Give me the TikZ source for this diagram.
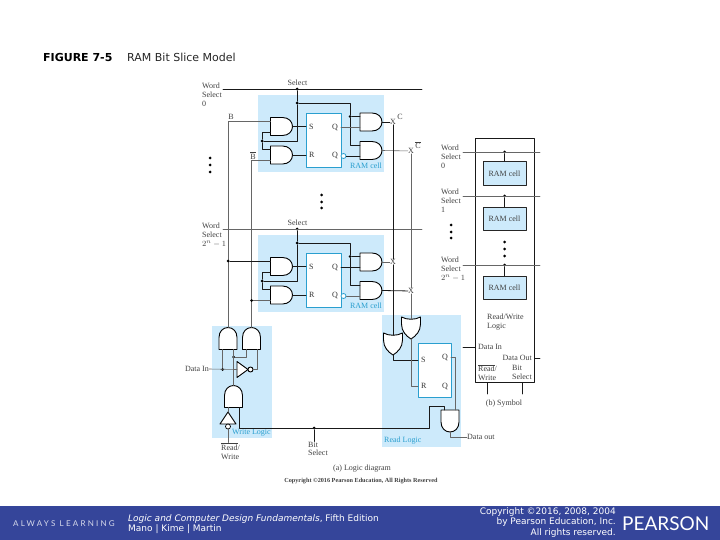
\documentclass[tikz,border=0pt]{standalone}
\usepackage{fontspec}
\setmainfont{Liberation Serif}
\newfontfamily\slidefont{DejaVu Sans}
\newfontfamily\brandfont{Lato}
\newfontfamily\spacedfont[LetterSpace=28]{Lato}
\definecolor{panelblue}{HTML}{CDEAFB}
\definecolor{edgeblue}{HTML}{2A9FCF}
\definecolor{barblue}{HTML}{35459A}
\tikzset{
  wire/.style={draw=black!60,line width=.6pt},
  wiredk/.style={draw=black!90,line width=.8pt},
  gateline/.style={draw=black,line width=.9pt,fill=white},
  lab/.style={font=\fontsize{8}{9}\selectfont,text=black!75,inner sep=0pt,align=left},
  bluelab/.style={font=\fontsize{8}{9}\selectfont,text=edgeblue,inner sep=0pt},
  pinlab/.style={font=\fontsize{8}{9}\selectfont,text=black!80,inner sep=3pt},
  panel/.style={fill=panelblue,draw=none,inner sep=0pt},
  srbox/.style={fill=white,draw=edgeblue,line width=.8pt,inner sep=0pt},
  jdot/.style={circle,fill=black,inner sep=0pt,minimum size=3pt},
  bubble/.style={circle,draw=edgeblue,fill=white,line width=.8pt,inner sep=0pt,minimum size=5pt},
  ramcell/.style={fill=panelblue,draw=black!85,line width=.9pt,inner sep=0pt,minimum width=43pt,minimum height=23.5pt,font=\fontsize{8}{9}\selectfont,text=black!75},
  footer/.style={font=\slidefont\fontsize{9}{10.5}\selectfont,text=white,inner sep=0pt},
  andgate/.pic={
    \draw[gateline] (-11,-9) -- (1,-9) .. controls (7,-9) and (11,-5) .. (11,0) .. controls (11,5) and (7,9) .. (1,9) -- (-11,9) -- cycle;
    \coordinate (-in1) at (-11,-5.5);
    \coordinate (-in2) at (-11,5.5);
    \coordinate (-out) at (11,0);
  },
  orgate/.pic={
    \draw[gateline] (-11,-9.5) -- (-4,-9.5) .. controls (3,-9.5) and (8,-5) .. (11,0) .. controls (8,5) and (3,9.5) .. (-4,9.5) -- (-11,9.5) .. controls (-8,4) and (-8,-4) .. cycle;
    \coordinate (-in) at (-8.8,0);
    \coordinate (-out) at (11,0);
  },
  invgate/.pic={
    \draw[gateline] (-6,-8) -- (5,0) -- (-6,8) -- cycle;
    \draw[gateline] (7.5,0) circle (2.5);
    \coordinate (-in) at (-6,0);
    \coordinate (-out) at (10,0);
  },
  bufgate/.pic={
    \draw[gateline] (-6,-8) -- (6,0) -- (-6,8) -- cycle;
    \draw[gateline,line width=.7pt] (-8.5,0) circle (2.5);
    \coordinate (-in) at (-11,0);
    \coordinate (-out) at (6,0);
  }
}
\begin{document}
\begin{tikzpicture}[line cap=round,line join=round,x=1pt,y=-1pt]
\useasboundingbox (0,0) rectangle (720,540);
\fill[barblue] (0,506) rectangle (720,540);
\node[anchor=west,inner sep=0pt,font=\slidefont\bfseries\fontsize{11}{12}\selectfont] (figno) at (43,57) {FIGURE 7-5};
\node[anchor=west,inner sep=0pt,font=\slidefont\fontsize{11}{12}\selectfont,text=black!85] (figname) at (127,57) {RAM Bit Slice Model};
\node[panel,minimum width=60pt,minimum height=112pt] (wpanel) at (242,382) {};
\node[panel,minimum width=79pt,minimum height=132pt] (rpanel) at (421.5,381) {};
\pic[rotate=90] (wa) at (228,338.5) {andgate};
\pic[rotate=90] (wb) at (251.5,338.5) {andgate};
\pic[rotate=90] (wc) at (233.5,396.5) {andgate};
\pic (inv) at (243,369.5) {invgate};
\pic[rotate=90] (buf) at (228,418) {bufgate};
\pic[rotate=-90] (oa) at (393,344) {orgate};
\pic[rotate=-90] (ob) at (411,328) {orgate};
\pic[rotate=-90] (rc) at (450,421) {andgate};
\node[srbox,minimum width=33pt,minimum height=54pt] (rsr) at (434.5,370) {};
\node[pinlab,anchor=west] (rs) at (418,360) {S};
\node[pinlab,anchor=west] (rr) at (418,386) {R};
\node[pinlab,anchor=east] (rq) at (451,357) {Q};
\node[pinlab,anchor=east] (rqb) at (451,386) {Q};
\foreach \row/\yy/\ca/\cb in {a/0/wire/wiredk,b/140/wiredk/wire}
{
\begin{scope}[shift={(0,\yy)}]
\node[panel,minimum width=126pt,minimum height=77pt] (bg\row) at (321,133.5) {};
\node[srbox,minimum width=35pt,minimum height=54pt] (cell\row) at (323.5,140) {};
\node[bluelab] (cap\row) at (366,165.5) {RAM cell};
\pic (andq\row) at (371,122) {andgate};
\pic (andp\row) at (371,150.5) {andgate};
\pic (ands\row) at (281.5,126.5) {andgate};
\pic (andr\row) at (281.5,155) {andgate};
\node[pinlab,anchor=west] (pins\row) at (306,126.5) {S};
\node[pinlab,anchor=west] (pinr\row) at (306,155) {R};
\node[pinlab,anchor=east] (pinq\row) at (341,127.5) {Q};
\node[pinlab,anchor=east] (pinp\row) at (341,155.5) {Q};
\node[bubble] (bub\row) at (343.5,156) {};
\node[lab] (sel\row) at (297.5,83) {Select};
\coordinate (wl\row) at (223,89);
\coordinate (wr\row) at (422,89);
\node[jdot] (js\row) at (297,89) {};
\node[jdot] (jq\row) at (297,103) {};
\node[jdot] (jt\row) at (262,141) {};
\node[jdot] (ja\row) at (350,116.5) {};
\node[lab] (xc\row) at (393,122) {X};
\node[lab] (xd\row) at (411,151) {X};
\draw[\cb] (wl\row) -- (wr\row);
\draw[wiredk] (js\row) -- (jq\row) |- (jt\row);
\draw[wiredk] (jt\row) |- (ands\row-in2);
\draw[wiredk] (jt\row) |- (andr\row-in1);
\draw[wiredk] (jq\row) -| (ja\row);
\draw[wiredk] (ja\row) -- (andq\row-in1);
\draw[wiredk] (ja\row) |- (andp\row-in1);
\draw[wiredk] (ands\row-out) -- (pins\row.west);
\draw[wiredk] (andr\row-out) -- (pinr\row.west);
\draw[\ca] (pinq\row.east) -- (andq\row-in2);
\draw[\cb] (bub\row.east) -- (andp\row-in2);
\draw[\cb] (andq\row-out) -- (xc\row);
\draw[\ca] (andp\row-out) -- (xd\row);
\end{scope}
}
\node[lab] (lbB) at (231,117) {B};
\node[lab] (lbBb) at (253,155.5) {$\overline{\mbox{B}}$};
\node[lab] (lbC) at (400,117) {C};
\node[lab] (lbCb) at (418,145) {$\overline{\mbox{C}}$};
\node[lab,anchor=west] (wsa) at (202,95) {Word\\Select\\0};
\node[lab,anchor=west] (wsb) at (202,235) {Word\\Select\\$2^n-1$};
\foreach \yy in {158,165,172}
{
\fill (210,\yy) circle (1.5);
}
\foreach \yy in {195,202,208}
{
\fill (321.5,\yy) circle (1.5);
}
\draw[wire] (andsa-in1) -| (wa-out);
\draw[wire] (andra-in2) -| (wb-out);
\node[jdot] (jbb) at (wa-out |- andsb-in1) {};
\node[jdot] (jcb) at (wb-out |- andrb-in2) {};
\draw[wiredk] (jbb) -- (andsb-in1);
\draw[wire] (jcb) -- (andrb-in2);
\draw[wiredk] (xca) -- (xcb) -- (oa-in);
\draw[wire] (xda) -- (xdb) -- (ob-in);
\node[bluelab,anchor=west] (wlab) at (232,433) {Write Logic};
\node[bluelab,anchor=west] (rlab) at (384,440.5) {Read Logic};
\node[lab,anchor=east] (dinw) at (209,369) {Data In};
\node[jdot] (jd) at (wa-in1 |- inv-in) {};
\node[jdot] (jw) at (233.5,357) {};
\node[jdot] (jbit) at (314,428) {};
\coordinate (bendl) at (429,428);
\coordinate (bendt) at (429,406);
\node[lab,anchor=north west] (rw) at (221,442.5) {$\overline{\mbox{Read}}$/\\Write};
\node[lab,anchor=north west] (bit) at (308,441.5) {Bit\\Select};
\node[lab,anchor=west] (dout) at (467,437) {Data out};
\draw[wire] (dinw.east) -- (inv-in);
\draw[wire] (jd) -- (wa-in1);
\draw[wire] (wc-out) -- (wa-in2);
\draw[wire] (jw) -| (wb-in1);
\draw[wire] (inv-out) -| (wb-in2);
\draw[wire] (buf-out) -- (wc-in1);
\draw[wire] (buf-in) -- (rw.north -| buf-in);
\draw[wiredk] (wc-in2) |- (bendl) -- (bendt) -| (rc-in2);
\draw[wiredk] (jbit) -- (bit.north -| jbit);
\draw[wiredk] (oa-out) |- (rs.west);
\draw[wire] (ob-out) |- (rr.west);
\draw[wire] (rq.east) -| (rc-in1);
\draw[wire] (rc-out) |- (dout.west);
\node[draw=black!90,line width=.9pt,minimum width=59pt,minimum height=244pt,inner sep=0pt] (sym) at (504.5,260) {};
\node[ramcell] (ramc0) at (504.5,173.5) {RAM cell};
\node[ramcell] (ramc1) at (504.5,219) {RAM cell};
\node[ramcell] (ramc2) at (504.5,288) {RAM cell};
\foreach \nm/\yy in {0/152,1/196,2/265}
{
\coordinate (sl\nm) at (463,\yy);
\coordinate (st\nm) at (540,\yy);
\node[jdot] (sd\nm) at (504.5,\yy) {};
\draw[wire] (sl\nm) -- (st\nm);
\draw[wiredk] (sd\nm) -- (ramc\nm.north);
}
\node[lab,anchor=west] (wsc) at (441,157) {Word\\Select\\0};
\node[lab,anchor=west] (wsd) at (441,200.5) {Word\\Select\\1};
\node[lab,anchor=west] (wse) at (441,269) {Word\\Select\\$2^n-1$};
\foreach \yy in {225,232,238}
{
\fill (451,\yy) circle (1.5);
}
\foreach \yy in {242,249,256}
{
\fill (504.5,\yy) circle (1.5);
}
\node[lab,anchor=west] (rwl) at (487,322) {Read/Write\\Logic};
\node[lab,anchor=west] (sdin) at (478,347) {Data In};
\node[lab,anchor=east] (sdout) at (532,358) {Data Out};
\node[lab,anchor=west] (srw) at (478,372.5) {$\overline{\mbox{Read}}$/\\Write};
\node[lab,anchor=west] (sbit) at (512,372.5) {Bit\\Select};
\node[lab] (bsym) at (504,404) {(b) Symbol};
\node[lab] (alog) at (362,469) {(a) Logic diagram};
\node[lab,font=\bfseries\fontsize{6.2}{7}\selectfont] (copy) at (361,481) {Copyright ©2016 Pearson Education, All Rights Reserved};
\coordinate (dinl) at (463,347);
\coordinate (doutr) at (540,358);
\coordinate (symrw) at (487,394);
\coordinate (symbs) at (522,394);
\draw[wiredk] (dinl) -- (dinl -| sym.west);
\draw[wiredk] (sdout.east -| sym.east) -- (doutr);
\draw[wiredk] (symrw |- sym.south) -- (symrw);
\draw[wiredk] (symbs |- sym.south) -- (symbs);
\node[anchor=west,inner sep=0pt,font=\spacedfont\fontsize{8}{9}\selectfont,text=white!80!barblue] (always) at (13,524) {ALWAYS LEARNING};
\node[footer,anchor=west,align=left] (book) at (128,524) {{\itshape Logic and Computer Design Fundamentals}, Fifth Edition\\Mano | Kime | Martin};
\node[footer,anchor=east,align=right] (rights) at (616,522.5) {Copyright ©2016, 2008, 2004\\by Pearson Education, Inc.\\All rights reserved.};
\node[anchor=west,inner sep=0pt,font=\brandfont\fontsize{19}{20}\selectfont,text=white] (brand) at (622,524) {PEARSON};
\end{tikzpicture}
\end{document}
